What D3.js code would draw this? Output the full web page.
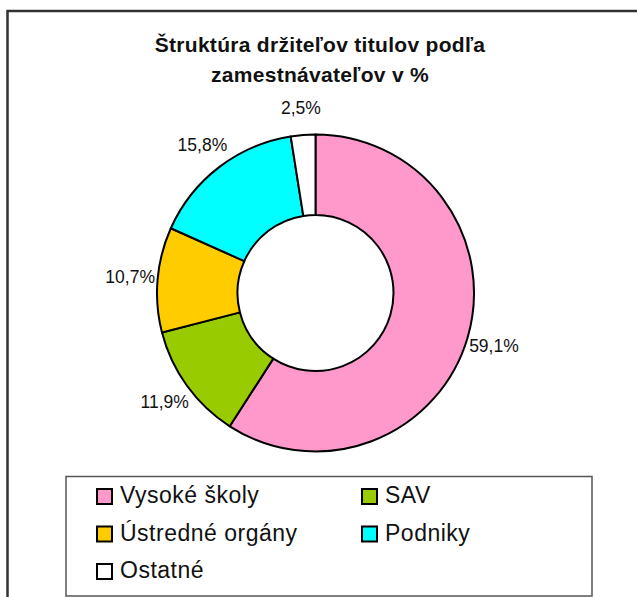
<!DOCTYPE html>
<html>
<head>
<meta charset="utf-8">
<script src="https://cdn.jsdelivr.net/npm/d3@7"></script>
<style>
  body { margin: 0; background: white; }
  svg text { font-family: "Liberation Sans", Arial, sans-serif; }
</style>
</head>
<body>
<div id="svgcontainer"></div>
<script>
// data
var categories = ["Vysoké školy", "SAV", "Ústredné orgány", "Podniky", "Ostatné"];
var values = [59.1, 11.9, 10.7, 15.8, 2.5];
var labels = ["59,1%", "11,9%", "10,7%", "15,8%", "2,5%"];
var colors = ["#FF99CC", "#99CC00", "#FFCC00", "#00FFFF", "#FFFFFF"];
var titleLines = ["Štruktúra držiteľov titulov podľa", "zamestnávateľov v %"];

// global layout
var WIDTH = 637;
var HEIGHT = 597;
var CENTERX = 315.5;
var CENTERY = 293;
var OUTER_R = 158.5;
var INNER_R = 78;
var LABEL_R = 186;

var svg = d3.select("#svgcontainer")
            .append("svg")
            .attr("width", WIDTH)
            .attr("height", HEIGHT);

svg.append("rect")
   .attr("width", WIDTH).attr("height", HEIGHT)
   .attr("fill", "white");

// chart border (runs off the right and bottom)
svg.append("rect")
   .attr("x", 7.5).attr("y", 11)
   .attr("width", WIDTH + 20).attr("height", HEIGHT + 20)
   .attr("fill", "none")
   .attr("stroke", "#333")
   .attr("stroke-width", 2.5);

// title
svg.append("text")
   .attr("x", 320)
   .attr("y", 51.5)
   .attr("text-anchor", "middle")
   .attr("font-size", 21)
   .attr("font-weight", "bold")
   .attr("letter-spacing", 0.3)
   .attr("fill", "#111")
   .selectAll("tspan")
   .data(titleLines)
   .enter()
   .append("tspan")
   .attr("x", 320)
   .attr("dy", function(d, i) { return i == 0 ? 0 : 30; })
   .text(function(d) { return d; });

// donut, clockwise from 12 o'clock
var pie = d3.pie().sort(null).value(function(d) { return d; });
var arcs = pie(values);
var arc = d3.arc().innerRadius(INNER_R).outerRadius(OUTER_R);
var labelArc = d3.arc().innerRadius(LABEL_R).outerRadius(LABEL_R);

var g = svg.append("g")
           .attr("transform", "translate(" + CENTERX + "," + CENTERY + ")");

g.selectAll("path")
 .data(arcs)
 .enter()
 .append("path")
 .attr("d", arc)
 .attr("fill", function(d, i) { return colors[i]; })
 .attr("stroke", "black")
 .attr("stroke-width", 2)
 .attr("stroke-linejoin", "round");

// percentage labels outside the ring
g.selectAll(".pielabel")
 .data(arcs)
 .enter()
 .append("text")
 .attr("class", "pielabel")
 .attr("transform", function(d) { return "translate(" + labelArc.centroid(d) + ")"; })
 .attr("dy", "0.35em")
 .attr("text-anchor", "middle")
 .attr("font-size", 17.5)
 .attr("fill", "#111")
 .text(function(d, i) { return labels[i]; });

// legend
svg.append("rect")
   .attr("x", 66).attr("y", 476.5)
   .attr("width", 526).attr("height", 119.5)
   .attr("fill", "white")
   .attr("stroke", "#555")
   .attr("stroke-width", 1.5);

var legend = svg.selectAll(".legenditem")
                .data(categories)
                .enter()
                .append("g")
                .attr("class", "legenditem")
                .attr("transform", function(d, i) {
                    var col = i % 2, row = Math.floor(i / 2);
                    return "translate(" + (97 + col * 265) + "," + (489 + row * 37.5) + ")";
                });

legend.append("rect")
      .attr("width", 15).attr("height", 15)
      .attr("fill", function(d, i) { return colors[i]; })
      .attr("stroke", "black")
      .attr("stroke-width", 2);

legend.append("text")
      .attr("x", 23)
      .attr("y", 14)
      .attr("font-size", 23)
      .attr("letter-spacing", 0.5)
      .attr("fill", "#111")
      .text(function(d) { return d; });
</script>
</body>
</html>
